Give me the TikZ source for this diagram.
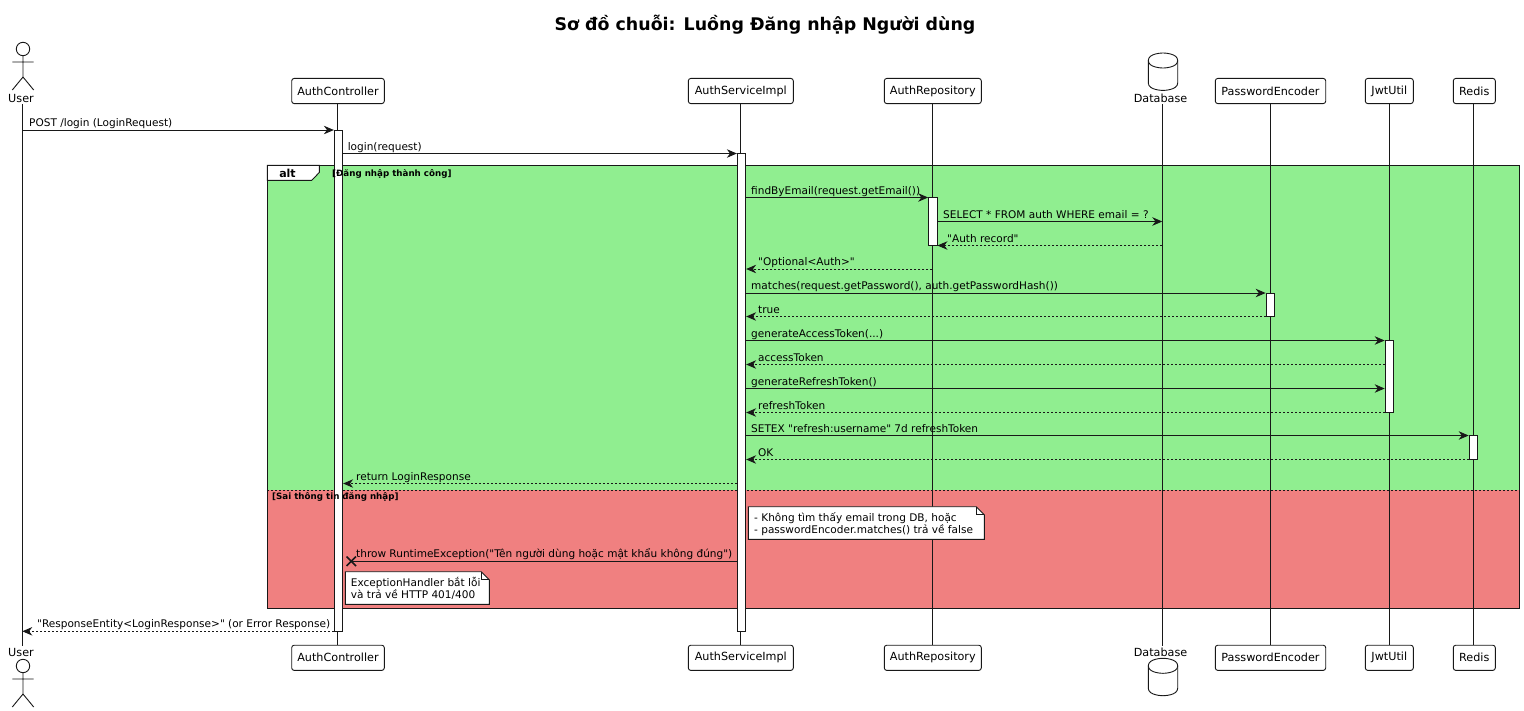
\documentclass[tikz,border=0pt]{standalone}
\usepackage{fontspec}
\setmainfont{DejaVu Sans}[Ligatures=TeXOff]
\usetikzlibrary{arrows.meta}
\definecolor{okgreen}{HTML}{90EE90}
\definecolor{badred}{HTML}{F08080}
\definecolor{ink}{HTML}{181818}
\tikzset{
  ln/.style={draw=ink,line width=0.9pt},
  partbox/.style={ln,fill=white,rounded corners=2.5pt,inner sep=0pt,minimum height=25.2pt,text=black,font=\fontsize{11.2}{13}\selectfont},
  actlabel/.style={inner sep=0pt,text=black,font=\fontsize{11.2}{13}\selectfont},
  bar/.style={ln,fill=white,inner sep=0pt,minimum width=8.4pt},
  msg/.style={ln,-{Stealth[length=10pt,width=8.5pt,inset=3.2pt]}},
  reply/.style={msg,dash pattern=on 2pt off 2pt},
  mtext/.style={anchor=base west,inner sep=0pt,text=black,font=\fontsize{10.53}{13}\selectfont},
  guardtext/.style={anchor=base west,inner sep=0pt,text=black,font=\fontsize{8.7}{11}\selectfont\bfseries},
  notetext/.style={anchor=base west,inner sep=0pt,text=black,font=\fontsize{10.53}{13}\selectfont}
}
\newcommand{\stickman}[2]{% x, y of head centre
  \draw[ln,fill=white] (#1,#2) circle (6.7);
  \draw[ln] (#1,#2+6.7) -- (#1,#2+28) (#1-10.7,#2+13) -- (#1+10.7,#2+13)
    (#1-10.7,#2+41) -- (#1,#2+28) -- (#1+10.7,#2+41);
}
\newcommand{\dbcyl}[2]{% centre x, top y
  \draw[ln,fill=white] (#1-14.7,#2+7.5) .. controls (#1-14.7,#2) and (#1,#2) .. (#1,#2)
    .. controls (#1,#2) and (#1+14.7,#2) .. (#1+14.7,#2+7.5)
    -- (#1+14.7,#2+29.9) .. controls (#1+14.7,#2+37.4) and (#1,#2+37.4) .. (#1,#2+37.4)
    .. controls (#1,#2+37.4) and (#1-14.7,#2+37.4) .. (#1-14.7,#2+29.9) -- cycle;
  \draw[ln] (#1-14.7,#2+7.5) .. controls (#1-14.7,#2+15) and (#1,#2+15) .. (#1,#2+15)
    .. controls (#1,#2+15) and (#1+14.7,#2+15) .. (#1+14.7,#2+7.5);
}
\begin{document}
\begin{tikzpicture}[x=1pt,y=-1pt]
\useasboundingbox (0,0) rectangle (1524,710);
\fill[white] (0,0) rectangle (1524,710);

% lifeline positions and message rows
\coordinate (Luser) at (22.3,0);
\coordinate (Lctrl) at (337.3,0);
\coordinate (Lsvc) at (740.3,0);
\coordinate (Lrepo) at (932.3,0);
\coordinate (Ldb) at (1162.3,0);
\coordinate (Lpe) at (1270.3,0);
\coordinate (Ljwt) at (1389.3,0);
\coordinate (Lredis) at (1473.3,0);
\coordinate (top) at (0,104);
\coordinate (bot) at (0,646);
\foreach \n/\y in {a/130,b/153.5,c/197.5,d/221.5,e/245.5,f/269,g/293,h/316.5,i/340.5,j/364.5,k/388.5,l/412.5,m/435.5,n/459.5,o/483.5,p/561.3,q/631.3}
  \coordinate (r\n) at (0,\y);

% alt fragment
\fill[okgreen] (267.3,165.3) rectangle (1519.3,490);
\fill[badred] (267.3,490) rectangle (1519.3,608);

% lifelines
\foreach \L in {Luser,Lctrl,Lsvc,Lrepo,Ldb,Lpe,Ljwt,Lredis}
  \draw[ln] (\L |- top) -- (\L |- bot);

% fragment frame
\draw[ln,line width=1pt] (267.3,165.3) rectangle (1519.3,608);
\draw[ln,dash pattern=on 2pt off 2pt] (267.3,490) -- (1519.3,490);
\draw[ln,fill=white] (267.3,165.3) -- (319.3,165.3) -- (319.3,172.5) -- (311.7,180.3) -- (267.3,180.3) -- cycle;
\node[anchor=base,inner sep=0pt,font=\fontsize{11}{13}\selectfont\bfseries] (altlabel) at (287.5,177) {alt};

% activation bars
\node[bar,minimum height=501.3pt] (Bctrl) at (338.5,380.65) {};
\node[bar,minimum height=478.3pt] (Bsvc) at (741.5,392.15) {};
\node[bar,minimum height=48pt] (Brepo) at (932.8,221.5) {};
\node[bar,minimum height=23.5pt] (Bpe) at (1270.3,304.75) {};
\node[bar,minimum height=72pt] (Bjwt) at (1389.3,376.5) {};
\node[bar,minimum height=24pt] (Bredis) at (1473.3,447.5) {};

% guards
\node[guardtext] (guardok) at (332,176.8) {[Đăng nhập thành công]};
\node[guardtext] (guardbad) at (272,499.8) {[Sai thông tin đăng nhập]};

% title
\node[inner sep=0pt,text=black,font=\fontsize{17.4}{22}\selectfont\bfseries] (title) at (765,25) {Sơ đồ chuỗi: Luồng Đăng nhập Người dùng};

% participants
\node[partbox,minimum width=92.6pt] (ctrlT) at (338,91) {AuthController};
\node[partbox,minimum width=105pt] (svcT) at (740.8,91) {AuthServiceImpl};
\node[partbox,minimum width=97pt] (repoT) at (932.8,91) {AuthRepository};
\node[partbox,minimum width=110.4pt] (peT) at (1270.5,91) {PasswordEncoder};
\node[partbox,minimum width=48pt] (jwtT) at (1389.3,91) {JwtUtil};
\node[partbox,minimum width=42pt] (redisT) at (1474.3,91) {Redis};
\node[partbox,minimum width=92.6pt] (ctrlB) at (338,657.8) {AuthController};
\node[partbox,minimum width=105pt] (svcB) at (740.8,657.8) {AuthServiceImpl};
\node[partbox,minimum width=97pt] (repoB) at (932.8,657.8) {AuthRepository};
\node[partbox,minimum width=110.4pt] (peB) at (1270.5,657.8) {PasswordEncoder};
\node[partbox,minimum width=48pt] (jwtB) at (1389.3,657.8) {JwtUtil};
\node[partbox,minimum width=42pt] (redisB) at (1474.3,657.8) {Redis};

% actor and database
\stickman{23}{49}
\stickman{23}{666}
\node[actlabel] (userT) at (21,98) {User};
\node[actlabel] (userB) at (21,652.7) {User};
\dbcyl{1163}{53}
\dbcyl{1163}{658.3}
\node[actlabel] (dbT) at (1160.5,98) {Database};
\node[actlabel] (dbB) at (1160.5,652.7) {Database};

% messages
\draw[msg] (Luser |- ra) -- (Bctrl.west |- ra);
\node[mtext] (ta) at (29,126.5) {POST /login (LoginRequest)};
\draw[msg] (Bctrl.east |- rb) -- (Bsvc.west |- rb);
\node[mtext] (tb) at (347.6,150) {login(request)};
\draw[msg] (Bsvc.east |- rc) -- (Brepo.west |- rc);
\node[mtext] (tc) at (751,194) {findByEmail(request.getEmail())};
\draw[msg] (Brepo.east |- rd) -- (Ldb |- rd);
\node[mtext] (td) at (943,218) {SELECT * FROM auth WHERE email = ?};
\draw[reply] (Ldb |- re) -- (Brepo.east |- re);
\node[mtext] (te) at (947,242) {"Auth record"};
\draw[reply] (Lrepo |- rf) -- (Bsvc.east |- rf);
\node[mtext] (tf) at (758,265.5) {"Optional<Auth>"};
\draw[msg] (Bsvc.east |- rg) -- (Bpe.west |- rg);
\node[mtext] (tg) at (751,289.5) {matches(request.getPassword(), auth.getPasswordHash())};
\draw[reply] (Bpe.west |- rh) -- (Bsvc.east |- rh);
\node[mtext] (th) at (758,313) {true};
\draw[msg] (Bsvc.east |- ri) -- (Bjwt.west |- ri);
\node[mtext] (ti) at (751,337) {generateAccessToken(...)};
\draw[reply] (Bjwt.west |- rj) -- (Bsvc.east |- rj);
\node[mtext] (tj) at (758,361) {accessToken};
\draw[msg] (Bsvc.east |- rk) -- (Bjwt.west |- rk);
\node[mtext] (tk) at (751,385) {generateRefreshToken()};
\draw[reply] (Bjwt.west |- rl) -- (Bsvc.east |- rl);
\node[mtext] (tl) at (758,409) {refreshToken};
\draw[msg] (Bsvc.east |- rm) -- (Bredis.west |- rm);
\node[mtext] (tm) at (751,432) {SETEX "refresh:username" 7d refreshToken};
\draw[reply] (Bredis.west |- rn) -- (Bsvc.east |- rn);
\node[mtext] (tn) at (758,456) {OK};
\draw[reply] (Bsvc.west |- ro) -- (Bctrl.east |- ro);
\node[mtext] (to) at (356,480) {return LoginResponse};

% throw with lost-message cross
\coordinate (xm) at (351.3,561.3);
\draw[ln] (Bsvc.west |- rp) -- (xm);
\draw[ink,line width=1.6pt] (346.6,556.6) -- (356,566) (346.6,566) -- (356,556.6);
\node[mtext] (tp) at (356,557.5) {throw RuntimeException("Tên người dùng hoặc mật khẩu không đúng")};

\draw[reply] (Bctrl.west |- rq) -- (Luser |- rq);
\node[mtext] (tq) at (37,627.5) {"ResponseEntity<LoginResponse>" (or Error Response)};

% notes
\draw[ln,fill=white] (748.3,506.7) -- (976.3,506.7) -- (984.3,514.7) -- (984.3,539.3) -- (748.3,539.3) -- cycle;
\draw[ln] (976.3,506.7) -- (976.3,514.7) -- (984.3,514.7);
\node[notetext] (n1a) at (754,521) {- Không tìm thấy email trong DB, hoặc};
\node[notetext] (n1b) at (754,533.7) {- passwordEncoder.matches() trả về false};
\draw[ln,fill=white] (345.3,571.7) -- (481.3,571.7) -- (489.3,579.7) -- (489.3,604.3) -- (345.3,604.3) -- cycle;
\draw[ln] (481.3,571.7) -- (481.3,579.7) -- (489.3,579.7);
\node[notetext] (n2a) at (350.7,586) {ExceptionHandler bắt lỗi};
\node[notetext] (n2b) at (350.7,598.7) {và trả về HTTP 401/400};
\end{tikzpicture}
\end{document}
